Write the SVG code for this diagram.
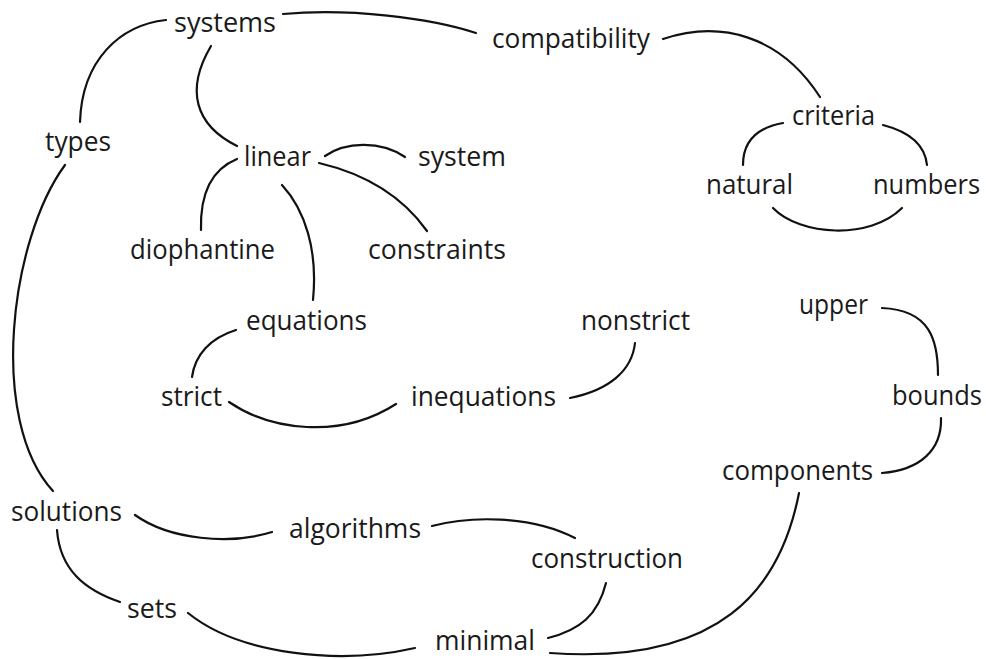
<svg xmlns="http://www.w3.org/2000/svg" width="986" height="659" viewBox="0 0 986 659">
<style>
.n text{font-family:"Open Sans","Noto Sans",sans-serif;font-size:27px;fill:#1a1a1a;}
.e path{fill:none;stroke:#111;stroke-width:2.2;stroke-linecap:round;}
</style>
<rect width="986" height="659" fill="#fff"/>
<g id="edges" class="e">
<path d="M166,20 C120,25 82,60 80,122"/>
<path d="M283,14 C350,8 430,18 476,33"/>
<path d="M211,46 C185,90 195,125 237,146"/>
<path d="M65,165 C10,240 -12,420 53,491"/>
<path d="M325,156 C345,142 380,140 405,157"/>
<path d="M319,163 C370,175 405,200 427,231"/>
<path d="M237,159 C210,170 200,195 201,230"/>
<path d="M282,185 C305,210 318,250 313,300"/>
<path d="M236,330 C210,338 195,355 192,377"/>
<path d="M229,402 C270,430 340,440 396,404"/>
<path d="M570,398 C610,390 632,370 635,343"/>
<path d="M663,39 C720,20 780,35 820,97"/>
<path d="M783,123 C755,128 743,143 743,165"/>
<path d="M883,125 C910,132 925,145 927,165"/>
<path d="M773,208 C800,236 870,240 902,208"/>
<path d="M882,308 C930,310 938,340 938,375"/>
<path d="M941,418 C942,450 920,470 882,473"/>
<path d="M799,493 C780,590 720,665 550,653"/>
<path d="M606,583 C598,615 580,630 548,638"/>
<path d="M432,526 C470,516 530,515 575,538"/>
<path d="M135,515 C170,540 230,545 272,532"/>
<path d="M57,530 C60,570 85,590 120,602"/>
<path d="M188,613 C240,655 340,665 415,648"/>
</g>
<g class="n">
<g id="systems"><text x="174" y="32" textLength="102" lengthAdjust="spacingAndGlyphs">systems</text></g>
<g id="compatibility"><text x="492" y="48" textLength="158" lengthAdjust="spacingAndGlyphs">compatibility</text></g>
<g id="criteria"><text x="792" y="125" textLength="83" lengthAdjust="spacingAndGlyphs">criteria</text></g>
<g id="natural"><text x="706" y="194" textLength="87" lengthAdjust="spacingAndGlyphs">natural</text></g>
<g id="numbers"><text x="873" y="194" textLength="107" lengthAdjust="spacingAndGlyphs">numbers</text></g>
<g id="types"><text x="45" y="151" textLength="66" lengthAdjust="spacingAndGlyphs">types</text></g>
<g id="linear"><text x="244" y="166" textLength="67" lengthAdjust="spacingAndGlyphs">linear</text></g>
<g id="system"><text x="418" y="166" textLength="88" lengthAdjust="spacingAndGlyphs">system</text></g>
<g id="diophantine"><text x="130" y="259" textLength="145" lengthAdjust="spacingAndGlyphs">diophantine</text></g>
<g id="constraints"><text x="368" y="259" textLength="138" lengthAdjust="spacingAndGlyphs">constraints</text></g>
<g id="equations"><text x="246" y="330" textLength="121" lengthAdjust="spacingAndGlyphs">equations</text></g>
<g id="strict"><text x="161" y="406" textLength="61" lengthAdjust="spacingAndGlyphs">strict</text></g>
<g id="inequations"><text x="411" y="406" textLength="145" lengthAdjust="spacingAndGlyphs">inequations</text></g>
<g id="nonstrict"><text x="581" y="330" textLength="109" lengthAdjust="spacingAndGlyphs">nonstrict</text></g>
<g id="upper"><text x="799" y="314" textLength="69" lengthAdjust="spacingAndGlyphs">upper</text></g>
<g id="bounds"><text x="892" y="405" textLength="90" lengthAdjust="spacingAndGlyphs">bounds</text></g>
<g id="components"><text x="722" y="480" textLength="151" lengthAdjust="spacingAndGlyphs">components</text></g>
<g id="solutions"><text x="11" y="521" textLength="111" lengthAdjust="spacingAndGlyphs">solutions</text></g>
<g id="algorithms"><text x="289" y="538" textLength="132" lengthAdjust="spacingAndGlyphs">algorithms</text></g>
<g id="construction"><text x="531" y="568" textLength="152" lengthAdjust="spacingAndGlyphs">construction</text></g>
<g id="sets"><text x="127" y="618" textLength="50" lengthAdjust="spacingAndGlyphs">sets</text></g>
<g id="minimal"><text x="435" y="650" textLength="100" lengthAdjust="spacingAndGlyphs">minimal</text></g>
</g>
</svg>
